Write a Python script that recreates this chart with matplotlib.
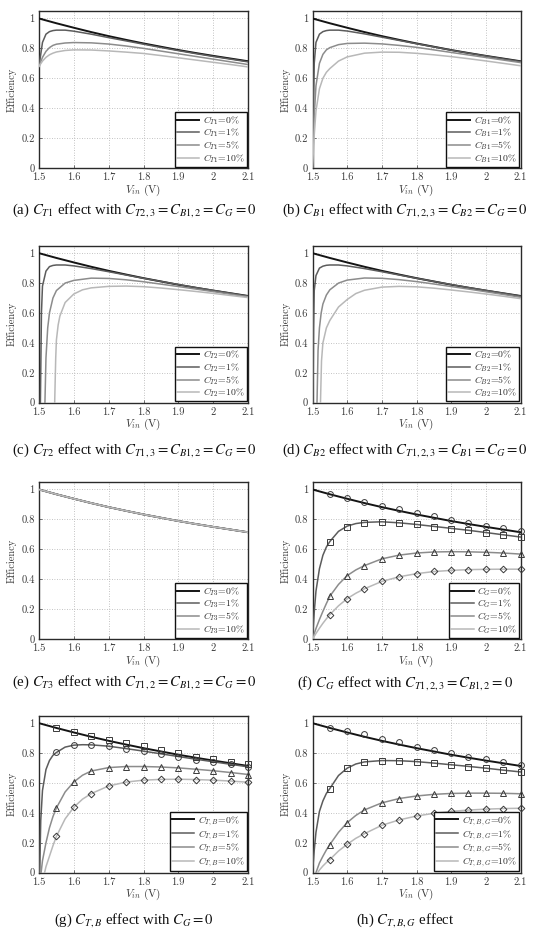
import matplotlib
matplotlib.use("Agg")
import matplotlib.pyplot as plt

plt.rcParams['mathtext.fontset'] = 'cm'
plt.rcParams['font.family'] = ['cmr10', 'DejaVu Serif']
plt.rcParams['axes.formatter.use_mathtext'] = True

# ---------------- data ----------------
VIN = [1.50, 1.55, 1.60, 1.65, 1.70, 1.75, 1.80, 1.85, 1.90, 1.95, 2.00, 2.05, 2.10]
EFF0 = [1.000, 0.968, 0.938, 0.909, 0.882, 0.857, 0.833, 0.811, 0.789, 0.769, 0.750, 0.732, 0.714]
VM = [1.55, 1.60, 1.65, 1.70, 1.75, 1.80, 1.85, 1.90, 1.95, 2.00, 2.05, 2.10]

# (a) C_T1
A_X = [1.50, 1.51, 1.52, 1.53, 1.54, 1.55, 1.575, 1.60, 1.65, 1.70, 1.75, 1.80, 1.85, 1.90, 1.95, 2.00, 2.05, 2.10]
A_1 = [0.68, 0.84, 0.895, 0.912, 0.919, 0.922, 0.922, 0.915, 0.895, 0.872, 0.850, 0.828, 0.806, 0.785, 0.765, 0.746, 0.728, 0.710]
A_5 = [0.68, 0.74, 0.78, 0.805, 0.82, 0.828, 0.836, 0.839, 0.837, 0.829, 0.816, 0.800, 0.782, 0.764, 0.746, 0.728, 0.710, 0.692]
A_10 = [0.68, 0.715, 0.74, 0.757, 0.768, 0.776, 0.786, 0.790, 0.789, 0.783, 0.775, 0.766, 0.752, 0.737, 0.722, 0.707, 0.692, 0.676]

# (b) C_B1
B_X = [1.50, 1.505, 1.51, 1.52, 1.53, 1.54, 1.55, 1.575, 1.60, 1.65, 1.70, 1.75, 1.80, 1.85, 1.90, 1.95, 2.00, 2.05, 2.10]
B_1 = [0.0, 0.70, 0.84, 0.895, 0.912, 0.919, 0.922, 0.922, 0.916, 0.897, 0.875, 0.853, 0.831, 0.810, 0.788, 0.768, 0.749, 0.730, 0.712]
B_5 = [0.0, 0.35, 0.55, 0.70, 0.76, 0.79, 0.805, 0.825, 0.833, 0.835, 0.830, 0.820, 0.807, 0.790, 0.773, 0.756, 0.739, 0.722, 0.705]
B_10 = [0.0, 0.22, 0.38, 0.53, 0.60, 0.64, 0.665, 0.715, 0.743, 0.768, 0.775, 0.774, 0.767, 0.757, 0.745, 0.731, 0.716, 0.700, 0.684]

# (c) C_T2
C1_X = [1.504, 1.507, 1.51, 1.52, 1.53, 1.54, 1.55, 1.575, 1.60, 1.65, 1.70, 1.75, 1.80, 1.85, 1.90, 1.95, 2.00, 2.05, 2.10]
C1_Y = [0.0, 0.60, 0.78, 0.88, 0.91, 0.918, 0.921, 0.921, 0.915, 0.897, 0.876, 0.854, 0.832, 0.811, 0.790, 0.770, 0.751, 0.732, 0.713]
C5_X = [1.517, 1.52, 1.525, 1.53, 1.54, 1.55, 1.575, 1.60, 1.65, 1.70, 1.75, 1.80, 1.85, 1.90, 1.95, 2.00, 2.05, 2.10]
C5_Y = [0.0, 0.30, 0.50, 0.60, 0.70, 0.75, 0.80, 0.818, 0.833, 0.831, 0.822, 0.809, 0.793, 0.777, 0.760, 0.743, 0.725, 0.708]
C10_X = [1.545, 1.548, 1.55, 1.555, 1.56, 1.575, 1.60, 1.625, 1.65, 1.70, 1.75, 1.80, 1.85, 1.90, 1.95, 2.00, 2.05, 2.10]
C10_Y = [0.0, 0.30, 0.42, 0.52, 0.58, 0.67, 0.727, 0.755, 0.768, 0.778, 0.780, 0.776, 0.767, 0.756, 0.744, 0.731, 0.717, 0.703]

# (d) C_B2
D1_X = [1.5015, 1.503, 1.505, 1.51, 1.52, 1.53, 1.54, 1.55, 1.575, 1.60, 1.65, 1.70, 1.75, 1.80, 1.85, 1.90, 1.95, 2.00, 2.05, 2.10]
D1_Y = [0.0, 0.50, 0.75, 0.85, 0.90, 0.913, 0.919, 0.921, 0.921, 0.915, 0.897, 0.876, 0.854, 0.832, 0.811, 0.790, 0.770, 0.751, 0.732, 0.713]
D5_X = [1.513, 1.516, 1.52, 1.525, 1.53, 1.54, 1.55, 1.575, 1.60, 1.65, 1.70, 1.75, 1.80, 1.85, 1.90, 1.95, 2.00, 2.05, 2.10]
D5_Y = [0.0, 0.35, 0.50, 0.60, 0.66, 0.72, 0.755, 0.80, 0.82, 0.834, 0.832, 0.823, 0.810, 0.794, 0.777, 0.760, 0.742, 0.724, 0.705]
D10_X = [1.523, 1.526, 1.53, 1.54, 1.55, 1.575, 1.60, 1.625, 1.65, 1.70, 1.75, 1.80, 1.85, 1.90, 1.95, 2.00, 2.05, 2.10]
D10_Y = [0.0, 0.28, 0.40, 0.50, 0.55, 0.64, 0.69, 0.73, 0.752, 0.773, 0.778, 0.775, 0.766, 0.754, 0.741, 0.727, 0.712, 0.696]

# (f) C_G
F_X = [1.50, 1.505, 1.51, 1.52, 1.53, 1.54, 1.55, 1.575, 1.60, 1.625, 1.65, 1.70, 1.75, 1.80, 1.85, 1.90, 1.95, 2.00, 2.05, 2.10]
F_1 = [0.0, 0.18, 0.32, 0.47, 0.56, 0.615, 0.652, 0.72, 0.755, 0.772, 0.780, 0.784, 0.777, 0.766, 0.753, 0.740, 0.727, 0.712, 0.697, 0.682]
F_5 = [0.0, 0.035, 0.07, 0.13, 0.185, 0.237, 0.286, 0.365, 0.424, 0.462, 0.491, 0.536, 0.561, 0.575, 0.582, 0.584, 0.583, 0.580, 0.575, 0.568]
F_10 = [0.0, 0.018, 0.037, 0.072, 0.105, 0.135, 0.163, 0.222, 0.270, 0.306, 0.336, 0.385, 0.416, 0.437, 0.451, 0.459, 0.464, 0.466, 0.467, 0.467]
FM_0 = [0.968, 0.940, 0.918, 0.892, 0.867, 0.843, 0.820, 0.799, 0.778, 0.759, 0.740, 0.722]
FM_1 = [0.650, 0.752, 0.777, 0.783, 0.775, 0.766, 0.752, 0.739, 0.728, 0.710, 0.696, 0.680]
FM_5 = [0.286, 0.424, 0.491, 0.538, 0.560, 0.576, 0.583, 0.583, 0.583, 0.580, 0.576, 0.567]
FM_10 = [0.163, 0.270, 0.337, 0.386, 0.415, 0.437, 0.453, 0.460, 0.464, 0.466, 0.466, 0.466]

# (g) C_T,B
G1_X = [1.502, 1.505, 1.51, 1.52, 1.53, 1.54, 1.55, 1.575, 1.60, 1.625, 1.65, 1.70, 1.75, 1.80, 1.85, 1.90, 1.95, 2.00, 2.05, 2.10]
G1_Y = [0.0, 0.35, 0.55, 0.69, 0.75, 0.785, 0.804, 0.840, 0.853, 0.856, 0.855, 0.846, 0.830, 0.813, 0.795, 0.777, 0.759, 0.742, 0.725, 0.708]
G5_X = [1.506, 1.51, 1.52, 1.53, 1.54, 1.55, 1.575, 1.60, 1.625, 1.65, 1.70, 1.75, 1.80, 1.85, 1.90, 1.95, 2.00, 2.05, 2.10]
G5_Y = [0.0, 0.08, 0.20, 0.30, 0.375, 0.433, 0.540, 0.607, 0.652, 0.680, 0.703, 0.710, 0.710, 0.707, 0.701, 0.692, 0.682, 0.670, 0.657]
G10_X = [1.516, 1.52, 1.53, 1.54, 1.55, 1.575, 1.60, 1.625, 1.65, 1.70, 1.75, 1.80, 1.85, 1.90, 1.95, 2.00, 2.05, 2.10]
G10_Y = [0.0, 0.04, 0.11, 0.18, 0.243, 0.360, 0.438, 0.492, 0.529, 0.580, 0.606, 0.619, 0.624, 0.625, 0.623, 0.619, 0.613, 0.605]
GM_0 = [0.969, 0.940, 0.917, 0.890, 0.868, 0.846, 0.821, 0.800, 0.777, 0.760, 0.741, 0.725]
GM_1 = [0.804, 0.855, 0.855, 0.846, 0.828, 0.8125, 0.792, 0.777, 0.757, 0.741, 0.725, 0.708]
GM_5 = [0.433, 0.607, 0.681, 0.703, 0.710, 0.710, 0.708, 0.701, 0.690, 0.681, 0.670, 0.656]
GM_10 = [0.243, 0.4375, 0.529, 0.580, 0.607, 0.620, 0.625, 0.625, 0.623, 0.618, 0.612, 0.605]

# (h) C_T,B,G
H1_X = [1.50, 1.505, 1.51, 1.52, 1.53, 1.54, 1.55, 1.575, 1.60, 1.625, 1.65, 1.70, 1.75, 1.80, 1.85, 1.90, 1.95, 2.00, 2.05, 2.10]
H1_Y = [0.0, 0.15, 0.27, 0.41, 0.48, 0.53, 0.563, 0.650, 0.699, 0.727, 0.741, 0.750, 0.749, 0.743, 0.733, 0.722, 0.711, 0.699, 0.686, 0.674]
H5_X = [1.51, 1.52, 1.53, 1.54, 1.55, 1.575, 1.60, 1.625, 1.65, 1.70, 1.75, 1.80, 1.85, 1.90, 1.95, 2.00, 2.05, 2.10]
H5_Y = [0.0, 0.065, 0.11, 0.152, 0.188, 0.270, 0.335, 0.383, 0.420, 0.467, 0.496, 0.513, 0.524, 0.530, 0.532, 0.532, 0.531, 0.528]
H10_X = [1.515, 1.52, 1.53, 1.54, 1.55, 1.575, 1.60, 1.625, 1.65, 1.70, 1.75, 1.80, 1.85, 1.90, 1.95, 2.00, 2.05, 2.10]
H10_Y = [0.0, 0.018, 0.045, 0.068, 0.088, 0.145, 0.190, 0.230, 0.261, 0.317, 0.353, 0.379, 0.397, 0.410, 0.419, 0.425, 0.429, 0.431]
HM_0 = [0.969, 0.946, 0.926, 0.897, 0.873, 0.844, 0.821, 0.799, 0.777, 0.759, 0.741, 0.721]
HM_1 = [0.5625, 0.699, 0.741, 0.750, 0.750, 0.743, 0.732, 0.723, 0.710, 0.699, 0.685, 0.674]
HM_5 = [0.1875, 0.335, 0.420, 0.466, 0.496, 0.513, 0.525, 0.531, 0.531, 0.531, 0.531, 0.527]
HM_10 = [0.085, 0.190, 0.261, 0.317, 0.353, 0.379, 0.397, 0.410, 0.420, 0.426, 0.429, 0.430]

PCTS = ['0%', '1%', '5%', '10%']
XTICKS = [1.5, 1.6, 1.7, 1.8, 1.9, 2.0, 2.1]
XTICKLABELS = ['1.5', '1.6', '1.7', '1.8', '1.9', '2', '2.1']
YTICKS = [0, 0.2, 0.4, 0.6, 0.8, 1.0]
YTICKLABELS = ['0', '0.2', '0.4', '0.6', '0.8', '1']

# ---------------- style ----------------
COLORS = ['#141414', '#5c5c5c', '#8c8c8c', '#b8b8b8']
LWS = [1.4, 1.1, 1.1, 1.1]
W, H = 538, 939
fig = plt.figure(figsize=(W / 100, H / 100), dpi=100)

COL_LEFT = [39, 312.5]
COL_W = [209, 208]
ROW_TOP = [11, 245.7, 482, 715.7]
AX_H = 157


def make_ax(row, col):
    l = COL_LEFT[col]
    t = ROW_TOP[row]
    ax = fig.add_axes([l / W, 1 - (t + AX_H) / H, COL_W[col] / W, AX_H / H])
    ax.set_xlim(1.5, 2.1)
    ax.set_ylim(0, 1.05)
    ax.set_xticks(XTICKS)
    ax.set_xticklabels(XTICKLABELS)
    ax.set_yticks(YTICKS)
    ax.set_yticklabels(YTICKLABELS)
    ax.tick_params(direction='in', length=2, width=0.5, labelsize=7.6, colors='#3a3a3a')
    ax.tick_params(axis='x', pad=3.5)
    ax.tick_params(axis='y', pad=3)
    ax.grid(True, linestyle=(0, (1, 2)), color='#b0b0b0', linewidth=0.6)
    for s in ax.spines.values():
        s.set_color('#2a2a2a')
        s.set_linewidth(1.0)
    ax.set_xlabel(r'$V_{in}$ (V)', fontsize=8, color='#3a3a3a', labelpad=0.0)
    ax.set_ylabel('Efficiency', fontsize=7.5, color='#3a3a3a', labelpad=3)
    return ax


def finish(ax, sym, lines):
    labels = [r'$C_{%s}$=%s' % (sym, p) for p in PCTS]
    leg = ax.legend(lines, labels, loc='lower right', fontsize=7, frameon=True, fancybox=False,
                    edgecolor='#111111', framealpha=1, borderpad=0.2, labelspacing=0.0,
                    handlelength=2.3, handletextpad=0.4, borderaxespad=0.15)
    leg.get_frame().set_linewidth(1.0)
    for t in leg.get_texts():
        t.set_color('#2a2a2a')


def caption(col, y, txt):
    cx = [134, 405][col]
    fig.text(cx / W, 1 - y / H, txt, ha='center', va='center', fontsize=10.6,
             family='Liberation Serif', math_fontfamily='stix', color='#111111')


def curves(ax, series):
    lines = []
    for i, (xs, ys) in enumerate(series):
        ln, = ax.plot(xs, ys, color=COLORS[i], lw=LWS[i], zorder=3 + i * 0.1)
        lines.append(ln)
    return lines


def markers(ax, ys_list, syms):
    for i, ys in enumerate(ys_list):
        ms = 4.2 if syms[i] != 'D' else 3.4
        ax.plot(VM, ys, linestyle='none', marker=syms[i], ms=ms, mfc='none',
                mec='#3a3a3a', mew=0.7, zorder=5, clip_on=False)


# (a)
ax = make_ax(0, 0)
ln = curves(ax, [(VIN, EFF0), (A_X, A_1), (A_X, A_5), (A_X, A_10)])
finish(ax, 'T1', ln)
caption(0, 210, r'(a) $C_{T1}$ effect with $C_{T2,3} = C_{B1,2} = C_G = 0$')

# (b)
ax = make_ax(0, 1)
ln = curves(ax, [(VIN, EFF0), (B_X, B_1), (B_X, B_5), (B_X, B_10)])
finish(ax, 'B1', ln)
caption(1, 210, r'(b) $C_{B1}$ effect with $C_{T1,2,3} = C_{B2} = C_G = 0$')

# (c)
ax = make_ax(1, 0)
ln = curves(ax, [(VIN, EFF0), (C1_X, C1_Y), (C5_X, C5_Y), (C10_X, C10_Y)])
finish(ax, 'T2', ln)
caption(0, 450, r'(c) $C_{T2}$ effect with $C_{T1,3} = C_{B1,2} = C_G = 0$')

# (d)
ax = make_ax(1, 1)
ln = curves(ax, [(VIN, EFF0), (D1_X, D1_Y), (D5_X, D5_Y), (D10_X, D10_Y)])
finish(ax, 'B2', ln)
caption(1, 450, r'(d) $C_{B2}$ effect with $C_{T1,2,3} = C_{B1} = C_G = 0$')

# (e)
ax = make_ax(2, 0)
ln = curves(ax, [(VIN, EFF0), (VIN, EFF0), (VIN, EFF0), (VIN, EFF0)])
finish(ax, 'T3', ln)
caption(0, 682, r'(e) $C_{T3}$ effect with $C_{T1,2} = C_{B1,2} = C_G = 0$')

# (f)
ax = make_ax(2, 1)
ln = curves(ax, [(VIN, EFF0), (F_X, F_1), (F_X, F_5), (F_X, F_10)])
markers(ax, [FM_0, FM_1, FM_5, FM_10], ['o', 's', '^', 'D'])
finish(ax, 'G', ln)
caption(1, 683, r'(f) $C_G$ effect with $C_{T1,2,3} = C_{B1,2} = 0$')

# (g)
ax = make_ax(3, 0)
ln = curves(ax, [(VIN, EFF0), (G1_X, G1_Y), (G5_X, G5_Y), (G10_X, G10_Y)])
markers(ax, [GM_0, GM_1, GM_5, GM_10], ['s', 'o', '^', 'D'])
finish(ax, 'T,B', ln)
caption(0, 920, r'(g) $C_{T,B}$ effect with $C_G = 0$')

# (h)
ax = make_ax(3, 1)
ln = curves(ax, [(VIN, EFF0), (H1_X, H1_Y), (H5_X, H5_Y), (H10_X, H10_Y)])
markers(ax, [HM_0, HM_1, HM_5, HM_10], ['o', 's', '^', 'D'])
finish(ax, 'T,B,G', ln)
caption(1, 920, r'(h) $C_{T,B,G}$ effect')

fig.savefig('out.png', dpi=100)
